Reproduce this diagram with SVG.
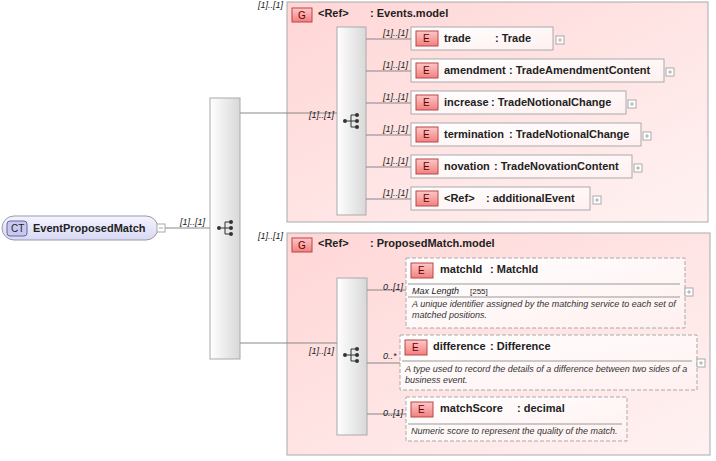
<svg xmlns="http://www.w3.org/2000/svg" width="716" height="461" viewBox="0 0 716 461">
<defs>
<linearGradient id="gp" x1="0" y1="0" x2="1" y2="1"><stop offset="0" stop-color="#ffd6d6"/><stop offset="1" stop-color="#fff2f2"/></linearGradient>
<linearGradient id="el" x1="0" y1="0" x2="1" y2="1"><stop offset="0" stop-color="#ffffff"/><stop offset="1" stop-color="#fff0f0"/></linearGradient>
<linearGradient id="bd" x1="0" y1="0" x2="0" y2="1"><stop offset="0" stop-color="#ffc8c8"/><stop offset="1" stop-color="#f08080"/></linearGradient>
<linearGradient id="sq" x1="0" y1="0" x2="1" y2="0"><stop offset="0" stop-color="#ffffff"/><stop offset="1" stop-color="#d8d8d8"/></linearGradient>
<linearGradient id="ct" x1="0" y1="0" x2="0" y2="1"><stop offset="0" stop-color="#f4f4ff"/><stop offset="1" stop-color="#d8d8f4"/></linearGradient>
<g id="seqicon"><circle cx="-6" cy="0" r="2" fill="#333"/><path d="M-4 0H0M0 -6V6M0 -6H5M0 0H5M0 6H5" stroke="#333" fill="none"/><circle cx="6" cy="-6" r="2" fill="#333"/><circle cx="6" cy="0" r="2" fill="#333"/><circle cx="6" cy="6" r="2" fill="#333"/></g>
<g id="plus"><rect x="0" y="0" width="8" height="8" fill="#fff" stroke="#aaa"/><path d="M2 4H6M4 2V6" stroke="#aaa"/></g>
</defs>
<style>
text{font-family:"Liberation Sans",Arial,sans-serif;fill:#222}
.b{font-weight:bold;font-size:11px}
.m{font-style:italic;font-size:9px}
.d{font-style:italic;font-size:9px;fill:#333}
.g{fill:url(#gp);stroke:#aaa}
.e{fill:url(#el);stroke:#aaa}
.ed{fill:url(#el);stroke:#aaa;stroke-dasharray:4 2}
.bx{fill:url(#bd);stroke:#b44}
.bt{font-size:10px;fill:#600}
.sq{fill:url(#sq);stroke:#aaa}
.c{stroke:#888;fill:none}
.sep{stroke:#999}
</style>
<g id="EventProposedMatch">
<rect x="2" y="216" width="156" height="24" rx="12" fill="url(#ct)" stroke="#99a"/>
<rect x="7" y="221" width="20" height="15" rx="3" fill="#c8c8f0" stroke="#669"/>
<text x="11" y="232" font-size="10" fill="#226">CT</text>
<text class="b" x="33" y="232">EventProposedMatch</text>
<rect x="157" y="224" width="8" height="8" fill="#fff" stroke="#aaa"/><path d="M159 228H163" stroke="#aaa"/>
</g>
<g id="seq0"><rect class="sq" x="210" y="98" width="30" height="261"/><use href="#seqicon" x="225" y="228"/></g>
<g id="events">
<rect class="g" x="287" y="2" width="421" height="220"/>
<rect class="bx" x="292" y="8" width="20" height="14"/><text class="bt" x="298" y="19">G</text>
<text class="b" x="318" y="17">&lt;Ref&gt;</text><text class="b" x="370" y="17">: Events.model</text>
<rect class="sq" x="337" y="27" width="29" height="188"/><use href="#seqicon" x="351" y="121"/>
</g>
<g id="trade"><rect class="e" x="411" y="27" width="142" height="23"/><rect class="bx" x="416" y="31" width="22" height="15"/><text class="bt" x="423" y="42">E</text><text class="b" x="444" y="42">trade</text><text class="b" x="495" y="42">: Trade</text><use href="#plus" x="556" y="36"/></g>
<g id="amendment"><rect class="e" x="411" y="59" width="253" height="23"/><rect class="bx" x="416" y="63" width="22" height="15"/><text class="bt" x="423" y="74">E</text><text class="b" x="444" y="74">amendment</text><text class="b" x="509" y="74">: TradeAmendmentContent</text><use href="#plus" x="666" y="68"/></g>
<g id="increase"><rect class="e" x="411" y="91" width="215" height="23"/><rect class="bx" x="416" y="95" width="22" height="15"/><text class="bt" x="423" y="106">E</text><text class="b" x="444" y="106">increase</text><text class="b" x="491" y="106">: TradeNotionalChange</text><use href="#plus" x="628" y="100"/></g>
<g id="termination"><rect class="e" x="411" y="123" width="230" height="23"/><rect class="bx" x="416" y="127" width="22" height="15"/><text class="bt" x="423" y="138">E</text><text class="b" x="444" y="138">termination</text><text class="b" x="509" y="138">: TradeNotionalChange</text><use href="#plus" x="643" y="132"/></g>
<g id="novation"><rect class="e" x="411" y="155" width="221" height="23"/><rect class="bx" x="416" y="159" width="22" height="15"/><text class="bt" x="423" y="170">E</text><text class="b" x="444" y="170">novation</text><text class="b" x="494" y="170">: TradeNovationContent</text><use href="#plus" x="634" y="164"/></g>
<g id="additionalEvent"><rect class="e" x="411" y="187" width="179" height="23"/><rect class="bx" x="416" y="191" width="22" height="15"/><text class="bt" x="423" y="202">E</text><text class="b" x="444" y="202">&lt;Ref&gt;</text><text class="b" x="486" y="202">: additionalEvent</text><use href="#plus" x="593" y="196"/></g>
<g id="proposed">
<rect class="g" x="287" y="233" width="423" height="222"/>
<rect class="bx" x="292" y="238" width="20" height="14"/><text class="bt" x="298" y="249">G</text>
<text class="b" x="318" y="247">&lt;Ref&gt;</text><text class="b" x="370" y="247">: ProposedMatch.model</text>
<rect class="sq" x="337" y="278" width="30" height="157"/><use href="#seqicon" x="351" y="355"/>
</g>
<g id="matchId"><rect class="ed" x="406" y="258" width="279" height="70"/><rect class="bx" x="411" y="263" width="22" height="15"/><text class="bt" x="418" y="274">E</text><text class="b" x="440" y="273">matchId</text><text class="b" x="490" y="273">: MatchId</text>
<path class="sep" d="M408 284H680M408 297H680"/><text class="m" x="412" y="294">Max Length</text><text font-size="8" x="470" y="294" fill="#888">[255]</text>
<text class="d" x="412" y="307">A unique identifier assigned by the matching service to each set of</text><text class="d" x="412" y="318">matched positions.</text><use href="#plus" x="685" y="288"/></g>
<g id="difference"><rect class="ed" x="400" y="335" width="297" height="55"/><rect class="bx" x="405" y="340" width="22" height="15"/><text class="bt" x="412" y="351">E</text><text class="b" x="433" y="350">difference</text><text class="b" x="490" y="350">: Difference</text>
<path class="sep" d="M402 361H692"/><text class="d" x="405" y="372">A type used to record the details of a difference between two sides of a</text><text class="d" x="405" y="383">business event.</text><use href="#plus" x="697" y="359"/></g>
<g id="matchScore"><rect class="ed" x="406" y="397" width="221" height="44"/><rect class="bx" x="411" y="402" width="22" height="15"/><text class="bt" x="418" y="413">E</text><text class="b" x="440" y="412">matchScore</text><text class="b" x="517" y="412">: decimal</text>
<path class="sep" d="M408 424H622"/><text class="d" x="411" y="434">Numeric score to represent the quality of the match.</text></g>
<g id="connectors">
<path class="c" d="M165 228H210M240 113H337M240 343H337"/>
<path class="c" d="M366 39H411M366 71H411M366 103H411M366 135H411M366 167H411M366 199H411"/>
<path class="c" d="M367 290H406M367 363H400M367 414H406"/>
<text class="m" x="180" y="225">[1]..[1]</text>
<text class="m" x="258" y="8">[1]..[1]</text>
<text class="m" x="258" y="239">[1]..[1]</text>
<text class="m" x="309" y="118">[1]..[1]</text>
<text class="m" x="309" y="354">[1]..[1]</text>
<text class="m" x="383" y="36">[1]..[1]</text>
<text class="m" x="383" y="68">[1]..[1]</text>
<text class="m" x="383" y="100">[1]..[1]</text>
<text class="m" x="383" y="132">[1]..[1]</text>
<text class="m" x="383" y="164">[1]..[1]</text>
<text class="m" x="383" y="196">[1]..[1]</text>
<text class="m" x="383" y="290">0..[1]</text>
<text class="m" x="383" y="359">0..*</text>
<text class="m" x="383" y="416">0..[1]</text>
</g>
</svg>
